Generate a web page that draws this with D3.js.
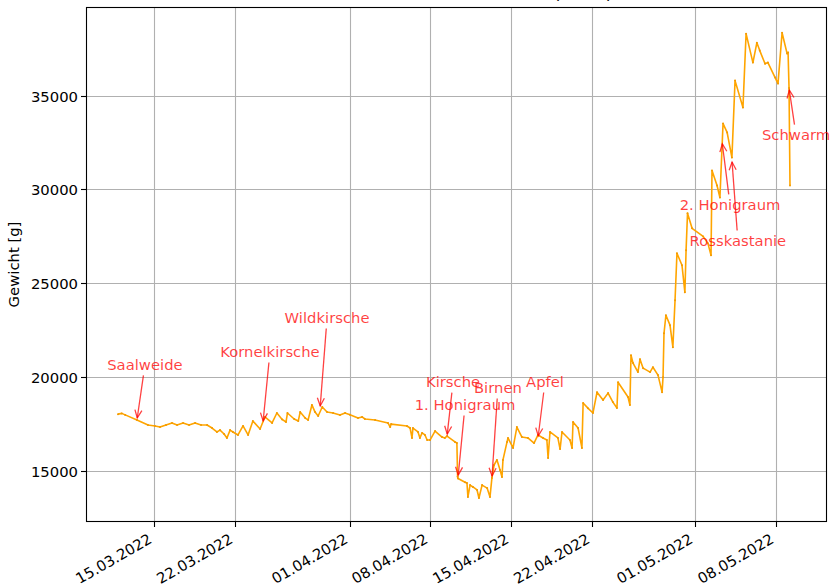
<!DOCTYPE html>
<html><head><meta charset="utf-8">
<script src="https://cdn.jsdelivr.net/npm/d3@7"></script>
<style>
body{margin:0;background:#fff;}
text{font-family:"DejaVu Sans",sans-serif;}
</style></head><body>
<svg id="c" width="830" height="587"></svg>
<script>
// ---- data ----
const times = ["03-11 21:00","03-12 05:00","03-12 12:00","03-13 12:30","03-14 11:30","03-15 02:00","03-15 12:30","03-16 01:00","03-16 13:30","03-17 00:00","03-17 12:30","03-18 01:00","03-18 13:30","03-19 02:00","03-19 14:30","03-20 01:00","03-20 11:00","03-20 17:30","03-21 02:00","03-21 08:00","03-21 14:30","03-21 20:30","03-22 07:00","03-22 17:30","03-23 04:00","03-23 14:00","03-24 05:00","03-24 15:00","03-25 06:00","03-25 16:00","03-26 03:00","03-26 11:00","03-26 14:00","03-27 04:00","03-27 12:30","03-27 16:30","03-28 03:00","03-28 09:00","03-28 17:00","03-28 23:30","03-29 06:00","03-29 14:30","03-30 00:30","03-30 13:00","03-31 03:30","03-31 14:00","04-01 00:15","04-01 17:00","04-02 01:30","04-02 07:30","04-03 04:30","04-04 07:30","04-04 12:00","04-04 14:00","04-05 23:00","04-06 05:30","04-06 09:30","04-06 11:30","04-06 22:00","04-07 02:00","04-07 06:30","04-07 12:30","04-07 17:00","04-07 23:00","04-08 09:30","04-09 00:00","04-09 06:00","04-09 10:30","04-10 03:00","04-10 07:00","04-10 08:30","04-10 09:30","04-11 00:00","04-11 04:00","04-11 06:00","04-11 10:30","04-11 16:30","04-12 01:00","04-12 05:00","04-12 11:30","04-12 22:00","04-13 04:00","04-13 08:00","04-13 12:30","04-13 18:30","04-14 01:00","04-14 05:00","04-14 07:00","04-14 15:30","04-14 17:30","04-15 04:00","04-15 12:00","04-15 22:30","04-16 11:00","04-16 23:45","04-17 08:00","04-17 18:30","04-18 02:30","04-18 05:00","04-18 09:00","04-19 01:30","04-19 06:00","04-19 10:00","04-20 02:30","04-20 07:00","04-20 09:00","04-20 19:30","04-21 03:30","04-21 06:00","04-21 16:00","04-22 02:30","04-22 11:00","04-22 23:30","04-23 10:00","04-23 20:00","04-24 04:30","04-24 06:45","04-25 03:30","04-25 07:30","04-25 09:45","04-25 14:00","04-26 00:15","04-26 04:30","04-26 11:00","04-27 01:30","04-27 07:30","04-27 18:00","04-28 02:30","04-28 04:30","04-28 06:30","04-28 10:30","04-28 19:00","04-29 01:00","04-29 05:30","04-29 09:30","04-29 20:00","04-30 02:00","04-30 04:30","04-30 07:30","04-30 17:00","05-01 16:00","05-02 02:00","05-02 08:30","05-02 10:30","05-02 21:00","05-03 03:00","05-03 09:30","05-03 18:00","05-04 04:00","05-04 10:30","05-05 03:00","05-05 09:30","05-05 23:45","05-06 08:00","05-06 14:00","05-07 01:00","05-07 07:00","05-07 22:00","05-08 04:00","05-08 12:30","05-08 23:00","05-09 01:00","05-09 03:00","05-09 05:00"];
const weights = [18030,18070,17990,17720,17450,17400,17340,17450,17560,17450,17560,17450,17560,17450,17450,17290,17080,17180,16970,16760,17180,17080,16920,17400,16920,17660,17240,17880,17560,18090,17750,17610,18090,17770,17660,18140,17820,17720,18520,18140,17930,18410,18140,18090,17980,18090,18000,17820,17880,17770,17720,17560,17340,17500,17400,17290,16760,17290,17080,16760,17030,16920,16650,16650,17130,16810,16760,16860,16550,16490,14700,14600,14400,14360,13620,14250,14150,13990,13560,14250,14090,13620,14630,15320,15590,15050,14680,15590,16550,16760,16230,17340,16810,16760,16490,16920,16760,16650,15690,17080,16760,16170,17080,16650,16230,17610,17290,16230,18620,18350,18090,19200,18780,19150,18670,18360,19730,18940,18520,21170,20750,20270,20960,20480,20270,20530,20110,19200,20000,22340,23300,22770,21600,24100,26600,25960,24520,26760,28730,27930,27500,27130,26490,31010,30210,29570,33510,33040,31700,35800,34370,38300,36760,37820,37400,36700,36760,35960,35640,38350,37240,37300,35400,30210];
const yTicks = [15000,20000,25000,30000,35000];
const xTickDates = ["03-15 00:00","03-22 00:00","04-01 00:00","04-08 00:00","04-15 00:00","04-22 00:00","05-01 00:00","05-08 00:00"];
const annLabels = ["Saalweide","Kornelkirsche","Wildkirsche","Kirsche","1. Honigraum","Birnen","Apfel","2. Honigraum","Rosskastanie","Schwarm"];
const annTimes = ["03-13 12:30","03-24 11:00","03-29 10:00","04-09 10:30","04-10 09:30","04-13 08:00","04-17 08:00","05-03 07:30","05-04 04:00","05-09 03:00"];
const annWeights = [17720,17560,18360,16860,14680,14630,16760,32540,31570,35400];
const yLabel = "Gewicht [g]";
const title = "Gewichtsverlauf Bienenvolk (2022)";

// ---- layout (pixel offsets of annotation texts relative to their target) ----
const annOffsets = [[8,-55],[7,-71],[7,-90],[6,-54],[7,-72],[6,-90],[7,-56],[8,63],[6,81],[7,47]];
const FS = "14.8px";

const parse = d3.timeParse("%Y-%m-%d %H:%M");
const P = s => parse("2022-" + s);
const data = times.map((t,i)=>({t:P(t), v:weights[i]}));

const L=86, R=827, T=7, B=522;
const svg = d3.select("#c");
const x = d3.scaleTime().domain([P("03-09 02:20"), P("05-12 10:05")]).range([L,R]);
const y = d3.scaleLinear().domain([12283,39722]).range([B,T]);

// title (mostly outside the figure, as in the reference)
svg.append("text").attr("x",(L+R)/2).attr("y",-1.5).attr("text-anchor","middle")
  .attr("font-size","17.8px").attr("fill","#000").text(title);

// grid
const grid = svg.append("g");
xTickDates.forEach(s=>{
  const px = Math.round(x(P(s)))+0.5;
  grid.append("line").attr("x1",px).attr("x2",px).attr("y1",T).attr("y2",B)
    .attr("stroke","#b0b0b0").attr("stroke-width",1.1);
});
yTicks.forEach(v=>{
  const py = Math.round(y(v))+0.5;
  grid.append("line").attr("x1",L).attr("x2",R).attr("y1",py).attr("y2",py)
    .attr("stroke","#b0b0b0").attr("stroke-width",1.1);
});

// line
const line = d3.line().x(d=>x(d.t)).y(d=>y(d.v));
svg.append("path").datum(data).attr("d",line).attr("fill","none")
  .attr("stroke","#ffa500").attr("stroke-width",1.6).attr("stroke-linejoin","round");
svg.append("g").selectAll("circle").data(data).join("circle")
  .attr("cx",d=>x(d.t)).attr("cy",d=>y(d.v)).attr("r",1).attr("fill","#f29a00");

// frame
svg.append("rect").attr("x",L+0.5).attr("y",T+0.5).attr("width",R-L-1).attr("height",B-T-1)
  .attr("fill","none").attr("stroke","#000").attr("stroke-width",1.1);

// y axis ticks
const yAxis = svg.append("g");
yTicks.forEach(v=>{
  const py = Math.round(y(v))+0.5;
  yAxis.append("line").attr("x1",L-5).attr("x2",L).attr("y1",py).attr("y2",py).attr("stroke","#000").attr("stroke-width",1.1);
  yAxis.append("text").attr("x",L-8).attr("y",py).attr("dy","0.35em").attr("text-anchor","end")
    .attr("font-size",FS).attr("fill","#000").text(String(v));
});
// x axis ticks
const fmt = d3.timeFormat("%d.%m.%Y");
const xAxis = svg.append("g");
xTickDates.forEach(s=>{
  const d = P(s);
  const px = Math.round(x(d))+0.5;
  xAxis.append("line").attr("x1",px).attr("x2",px).attr("y1",B).attr("y2",B+5).attr("stroke","#000").attr("stroke-width",1.1);
  xAxis.append("text").attr("transform",`translate(${px-1.5},${B+20}) rotate(-30)`)
    .attr("text-anchor","end").attr("font-size",FS).attr("fill","#000").text(fmt(d));
});
// y label
svg.append("text").attr("transform",`translate(19,${(T+B)/2}) rotate(-90)`).attr("text-anchor","middle")
  .attr("font-size",FS).attr("fill","#000").text(yLabel);

// annotations
const red = "rgba(255,0,0,0.75)";
const ann = svg.append("g");
annLabels.forEach((lab,i)=>{
  const tx = x(P(annTimes[i])), ty = y(annWeights[i]);
  const cx = tx + annOffsets[i][0], cy = ty + annOffsets[i][1];
  const t = ann.append("text").attr("x",cx).attr("y",cy).attr("dy","0.35em").attr("text-anchor","middle")
    .attr("font-size",FS).attr("fill",red).text(lab);
  const bb = t.node().getBBox();
  const hw = bb.width/2 + 2, hh = bb.height/2 + 2;
  const dx = tx-cx, dy = ty-cy;
  const s = Math.min(dx!==0? hw/Math.abs(dx):Infinity, dy!==0? hh/Math.abs(dy):Infinity);
  const sx = cx + dx*s, sy = cy + dy*s;
  const len = Math.hypot(tx-sx, ty-sy);
  const ux=(tx-sx)/len, uy=(ty-sy)/len;
  const ex = tx - ux*2, ey = ty - uy*2;
  ann.append("line").attr("x1",sx).attr("y1",sy).attr("x2",ex).attr("y2",ey)
    .attr("stroke",red).attr("stroke-width",1.3);
  const hl=8, hwid=3.5;
  const bx = ex-ux*hl, by = ey-uy*hl;
  ann.append("path").attr("d",`M${bx-uy*hwid},${by+ux*hwid}L${ex},${ey}L${bx+uy*hwid},${by-ux*hwid}`)
    .attr("fill","none").attr("stroke",red).attr("stroke-width",1.3);
});
</script></body></html>
